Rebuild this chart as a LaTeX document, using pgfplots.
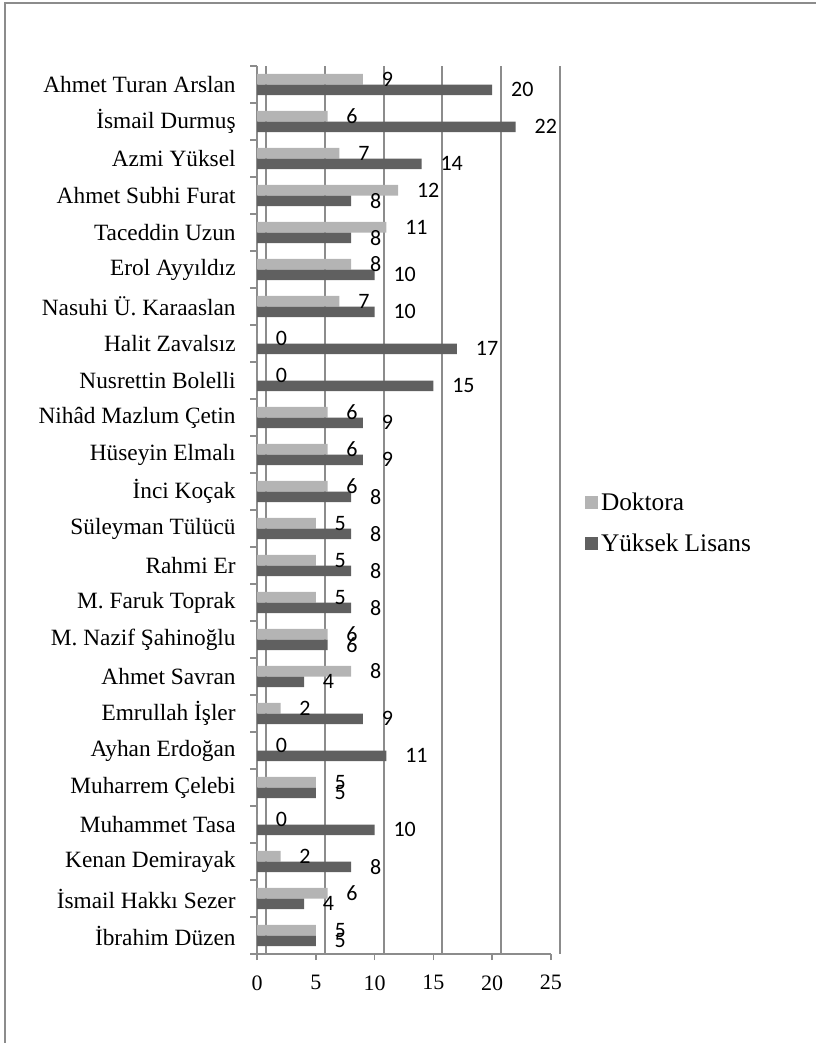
\documentclass[border=0pt]{standalone}
\usepackage{pgfplots}
\pgfplotsset{compat=1.18}
\usepackage{fontspec}
\setmainfont{Liberation Serif}
\newfontfamily\calib{Carlito}
\definecolor{lightbar}{HTML}{B4B4B4}
\definecolor{darkbar}{HTML}{606060}
\definecolor{axgray}{HTML}{8C8C8C}
\begin{document}
\begin{tikzpicture}
\path[use as bounding box] (0,0) rectangle (612pt,782.25pt);
\draw[axgray, line width=1.4pt] (3.75pt,0) -- (3.75pt,780pt) -- (612pt,780pt);
\begin{axis}[
  at={(192.75pt,66.75pt)}, anchor=south west,
  scale only axis, width=220.5pt, height=666pt,
  xbar, bar width=7.9pt,
  y dir=reverse,
  xmin=0, xmax=25, ymin=-0.5, ymax=23.5,
  xtick={0,5,...,25},
  ytick={0,...,23},
  yticklabels={Ahmet Turan Arslan, İsmail Durmuş, Azmi Yüksel, Ahmet Subhi Furat, Taceddin Uzun, Erol Ayyıldız, Nasuhi Ü. Karaaslan, Halit Zavalsız, Nusrettin Bolelli, Nihâd Mazlum Çetin, Hüseyin Elmalı, İnci Koçak, Süleyman Tülücü, Rahmi Er, M. Faruk Toprak, M. Nazif Şahinoğlu, Ahmet Savran, Emrullah İşler, Ayhan Erdoğan, Muharrem Çelebi, Muhammet Tasa, Kenan Demirayak, İsmail Hakkı Sezer, İbrahim Düzen},
  minor ytick={-0.5,0.5,...,23.5},
  axis x line*=bottom, axis y line*=left,
  axis line style={axgray, line width=1.4pt, -},
  tick align=outside,
  major tick length=4.5pt, minor tick length=5pt,
  x tick style={axgray, line width=1.2pt},
  major y tick style={draw=none},
  minor y tick style={axgray, line width=1.2pt},
  xmajorgrids,
  major x grid style={axgray, line width=1.5pt, xshift=6.75pt},
  /pgf/number format/assume math mode=true,
  xticklabel style={font=\fontsize{16.5}{18}\selectfont, yshift=-8pt},
  yticklabel style={font=\fontsize{17.5}{20}\selectfont, xshift=-8pt},
  point meta=x,
  nodes near coords,
  nodes near coords style={font=\calib\fontsize{16.5}{18}\selectfont, anchor=west, xshift=14pt, inner sep=0pt, black},
  legend cell align=left,
  legend style={draw=none, at={(1.116,0.5225)}, anchor=north west, inner sep=0pt,
    font=\fontsize{19}{22}\selectfont, row sep=12pt},
  legend image code/.code={\fill[#1] (0pt,-4.9pt) rectangle (9.75pt,4.9pt);},
]
\addplot[fill=lightbar, draw=none, bar shift=3.95pt] coordinates {
(9,0) (6,1) (7,2) (12,3) (11,4) (8,5) (7,6) (0,7) (0,8) (6,9) (6,10) (6,11)
(5,12) (5,13) (5,14) (6,15) (8,16) (2,17) (0,18) (5,19) (0,20) (2,21) (6,22) (5,23)};
\addplot[fill=darkbar, draw=none, bar shift=-3.95pt] coordinates {
(20,0) (22,1) (14,2) (8,3) (8,4) (10,5) (10,6) (17,7) (15,8) (9,9) (9,10) (8,11)
(8,12) (8,13) (8,14) (6,15) (4,16) (9,17) (11,18) (5,19) (10,20) (8,21) (4,22) (5,23)};
\legend{Doktora, Yüksek Lisans}
\end{axis}
\end{tikzpicture}
\end{document}
